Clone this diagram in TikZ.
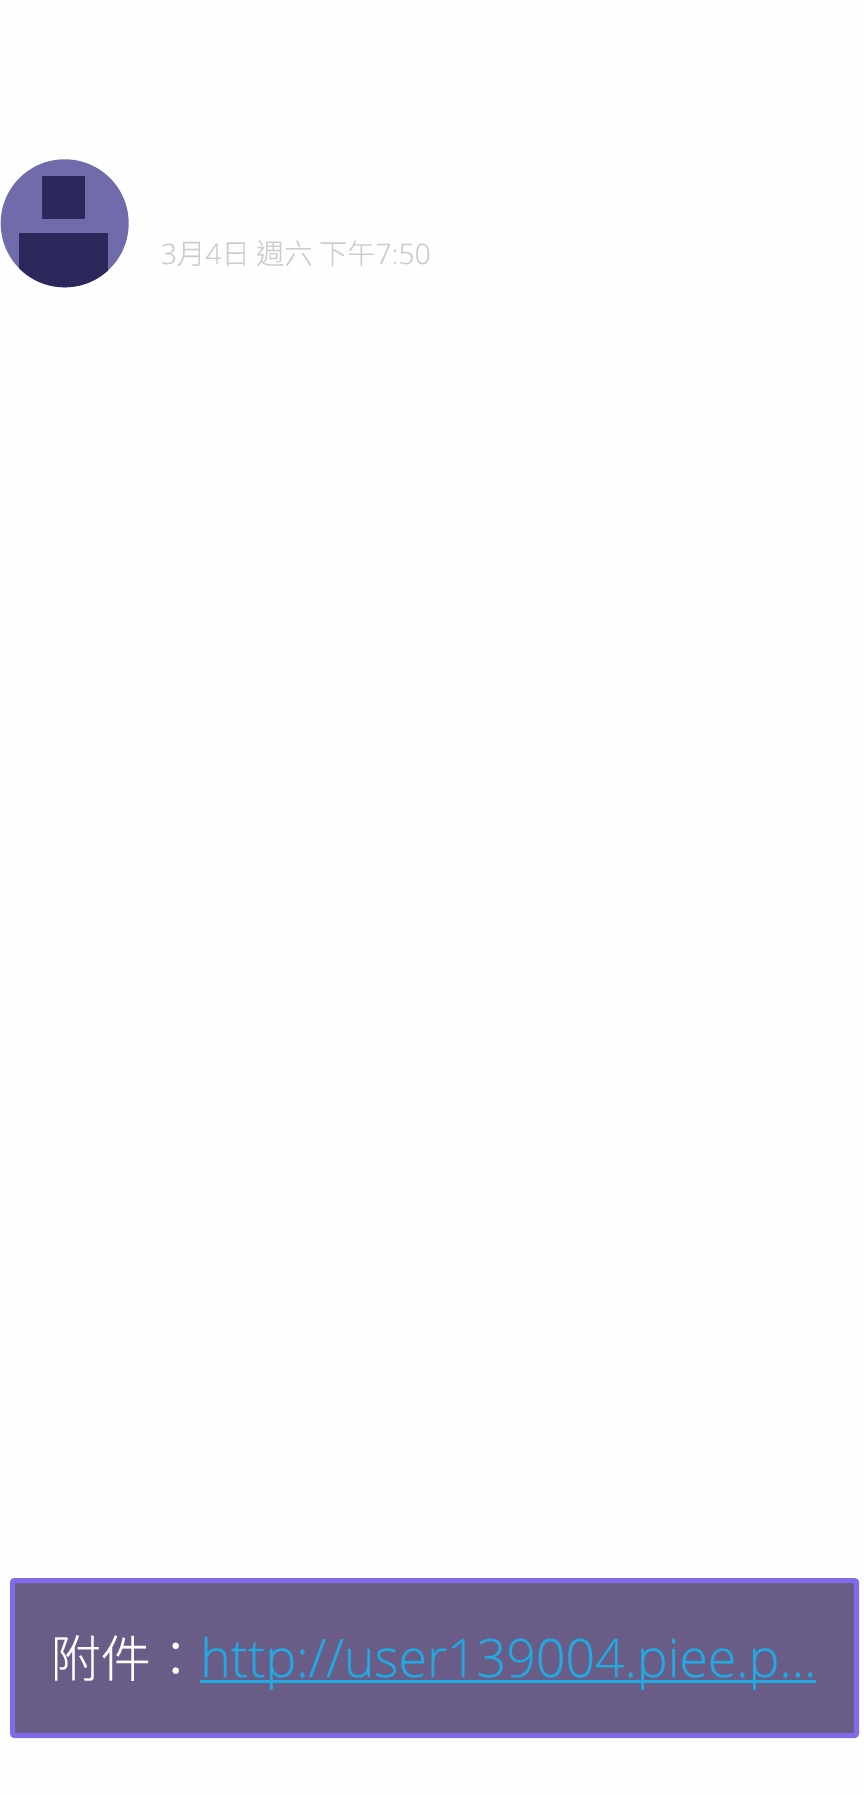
\documentclass[tikz,border=0pt]{standalone}
\usepackage{fontspec}
\setmainfont[FakeBold=0.2]{Open Sans Light}
\newfontfamily\cjk[FakeBold=0.2]{Noto Sans CJK TC Light}
\newfontfamily\linkface[FakeBold=0.3,FakeStretch=0.977]{Open Sans Light}
\definecolor{pageback}{HTML}{FEFEFE}
\definecolor{discback}{HTML}{706BAA}
\definecolor{discdark}{HTML}{2C285B}
\definecolor{stampgrey}{HTML}{CCCCCC}
\definecolor{panelback}{HTML}{695D87}
\definecolor{panelline}{HTML}{826BE8}
\definecolor{linkblue}{HTML}{22A9E2}
\begin{document}
\begin{tikzpicture}[x=1pt,y=-1pt,
  stamp/.style={inner sep=0,anchor=base west,text=stampgrey,font=\fontsize{28.3}{28.3}\selectfont},
  paneltext/.style={inner sep=0,anchor=base west}]
\useasboundingbox (0,0) rectangle (863,1795);
\fill[pageback] (0,0) rectangle (863,1795);
\begin{scope}
\clip (64.7,223.3) circle (64);
\fill[discback] (0,150) rectangle (140,300);
\fill[discdark] (42.3,176) rectangle (85,219.3);
\fill[discdark] (18.7,233.3) rectangle (108.3,295);
\end{scope}
\node[stamp] (stamp) at (160.7,264) {3{\cjk 月}4{\cjk 日 週六 下午}7:50};
\draw[draw=panelline,fill=panelback,line width=5pt,rounded corners=2pt] (12.5,1580.5) rectangle (856.5,1735.5);
\node[paneltext,text=white,font=\fontsize{50}{50}\selectfont\cjk] (label) at (50.5,1677) {附件：};
\node[paneltext,text=linkblue,font=\fontsize{53}{53}\selectfont\linkface] (link) at (200,1677) {http://user139004.piee.p...};
\draw[linkblue,line width=3.5pt] ([yshift=-4.5pt]link.base west) -- ([yshift=-4.5pt]link.base east);
\end{tikzpicture}
\end{document}
